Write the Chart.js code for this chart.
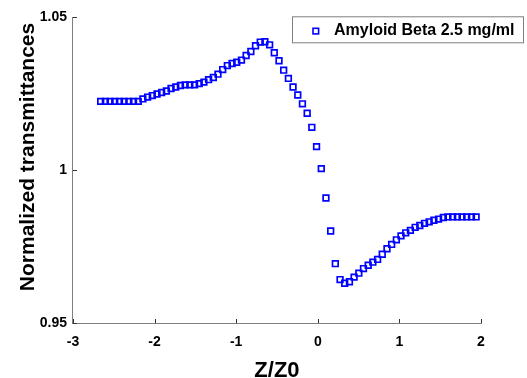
<!DOCTYPE html>
<html><head><meta charset="utf-8">
<script src="https://cdn.jsdelivr.net/npm/chart.js@4"></script>
<style>html,body{margin:0;padding:0;background:#fff}#wrap{width:527px;height:378px;position:relative}</style>
</head><body><div id="wrap"><canvas id="c" width="527" height="378"></canvas></div>
<script>
const seriesLabel = 'Amyloid Beta 2.5 mg/ml';
const xTitle = 'Z/Z0';
const yTitle = 'Normalized transmittances';
const xTickValues = [-3, -2, -1, 0, 1, 2];
const yTickValues = [0.95, 1, 1.05];

const zValues = [
  -2.660, -2.603, -2.545, -2.488, -2.430, -2.373, -2.315, -2.258, -2.200, -2.143,
  -2.085, -2.028, -1.970, -1.913, -1.855, -1.798, -1.740, -1.683, -1.625, -1.568,
  -1.510, -1.453, -1.395, -1.338, -1.280, -1.223, -1.165, -1.108, -1.050, -0.993,
  -0.935, -0.878, -0.820, -0.763, -0.705, -0.648, -0.590, -0.533, -0.475, -0.418,
  -0.360, -0.303, -0.245, -0.188, -0.130, -0.073, -0.015, 0.043, 0.100, 0.158,
  0.215, 0.273, 0.330, 0.388, 0.445, 0.503, 0.560, 0.618, 0.675, 0.733,
  0.790, 0.848, 0.905, 0.963, 1.020, 1.078, 1.135, 1.193, 1.250, 1.308,
  1.365, 1.423, 1.480, 1.538, 1.595, 1.653, 1.710, 1.768, 1.825, 1.883,
  1.940
];
const transmittance = [
  1.0225, 1.0225, 1.0225, 1.0225, 1.0225, 1.0225, 1.0225, 1.0225, 1.0225, 1.0233,
  1.0239, 1.0244, 1.0249, 1.0254, 1.0259, 1.0267, 1.0272, 1.0277, 1.0279, 1.0279,
  1.0279, 1.0283, 1.0288, 1.0296, 1.0303, 1.0314, 1.0329, 1.0342, 1.0349, 1.0353,
  1.0360, 1.0375, 1.0388, 1.0407, 1.0419, 1.0420, 1.0410, 1.0384, 1.0358, 1.0327,
  1.0300, 1.0272, 1.0246, 1.0217, 1.0186, 1.0140, 1.0077, 1.0005, 0.9909, 0.9801,
  0.9694, 0.9642, 0.9630, 0.9635, 0.9650, 0.9663, 0.9678, 0.9689, 0.9699, 0.9708,
  0.9725, 0.9743, 0.9757, 0.9772, 0.9785, 0.9795, 0.9803, 0.9813, 0.9819, 0.9826,
  0.9831, 0.9836, 0.9840, 0.9845, 0.9847, 0.9847, 0.9847, 0.9847, 0.9847, 0.9847,
  0.9847
];

const FONT = "Arial, 'Liberation Sans', Helvetica, sans-serif";
const AXIS_GRAY = '#7f7f7f';
const BLUE = '#0000ff';

const points = zValues.map((z, i) => ({ x: z, y: transmittance[i] }));

const inwardTicks = {
  id: 'inwardTicks',
  afterDatasetsDraw(chart) {
    const ctx = chart.ctx, a = chart.chartArea;
    const xs = chart.scales.x, ys = chart.scales.y;
    ctx.save();
    ctx.strokeStyle = '#333';
    ctx.lineWidth = 1;
    ctx.beginPath();
    xTickValues.forEach(v => {
      const px = Math.round(xs.getPixelForValue(v)) + 0.5;
      ctx.moveTo(px, a.bottom); ctx.lineTo(px, a.bottom - 4);
    });
    yTickValues.forEach(v => {
      const py = Math.round(ys.getPixelForValue(v)) + 0.5;
      ctx.moveTo(a.left, py); ctx.lineTo(a.left + 4, py);
    });
    ctx.stroke();
    ctx.restore();
  }
};

const axisTitles = {
  id: 'axisTitles',
  afterDraw(chart) {
    const ctx = chart.ctx, a = chart.chartArea;
    ctx.save();
    ctx.fillStyle = '#000';
    ctx.font = 'bold 22px ' + FONT;
    ctx.textAlign = 'center';
    ctx.textBaseline = 'alphabetic';
    ctx.fillText(xTitle, (a.left + a.right) / 2, chart.height - 1.5);
    ctx.font = 'bold 21px ' + FONT;
    ctx.translate(34, 157);
    ctx.rotate(-Math.PI / 2);
    ctx.fillText(yTitle, 0, 0);
    ctx.restore();
  }
};

const boxLegend = {
  id: 'boxLegend',
  afterDraw(chart) {
    const ctx = chart.ctx, a = chart.chartArea;
    const ds = chart.data.datasets[0];
    const left = 292.5, top = a.top - 0.5, w = 231, h = 26;
    ctx.save();
    ctx.fillStyle = '#fff';
    ctx.fillRect(left, top, w, h);
    ctx.strokeStyle = AXIS_GRAY;
    ctx.lineWidth = 1;
    ctx.strokeRect(left, top, w, h);
    ctx.strokeStyle = BLUE;
    ctx.lineWidth = 1.6;
    ctx.strokeRect(left + 20.5, top + 11.5, 5.6, 5.6);
    ctx.fillStyle = '#000';
    ctx.font = 'bold 16px ' + FONT;
    ctx.textBaseline = 'middle';
    ctx.textAlign = 'left';
    ctx.fillText(ds.label, left + 41.5, top + 14);
    ctx.restore();
  }
};

new Chart(document.getElementById('c'), {
  type: 'scatter',
  data: {
    datasets: [{
      label: seriesLabel,
      data: points,
      showLine: false,
      pointStyle: 'rect',
      pointRadius: 4,
      pointHoverRadius: 4,
      pointBorderWidth: 1.7,
      borderColor: BLUE,
      backgroundColor: 'rgba(0,0,0,0)',
      pointBackgroundColor: 'rgba(0,0,0,0)'
    }]
  },
  options: {
    responsive: false,
    animation: false,
    devicePixelRatio: 1,
    layout: { padding: { left: 33.7, right: 46, top: 17.3, bottom: 17.2 } },
    plugins: { legend: { display: false }, tooltip: { enabled: false } },
    scales: {
      x: {
        type: 'linear', min: -3, max: 2,
        afterBuildTicks: s => { s.ticks = xTickValues.map(v => ({ value: v })); },
        ticks: { color: '#000', padding: 10.5, font: { family: FONT, size: 14, weight: 'bold' }, callback: v => String(v) },
        grid: { display: true, drawOnChartArea: false, drawTicks: false },
        border: { display: true, color: AXIS_GRAY, width: 1 },
        title: { display: false }
      },
      y: {
        type: 'linear', min: 0.95, max: 1.05,
        afterBuildTicks: s => { s.ticks = yTickValues.map(v => ({ value: v })); },
        ticks: { color: '#000', padding: 6, font: { family: FONT, size: 14, weight: 'bold' }, callback: v => String(v) },
        grid: { display: true, drawOnChartArea: false, drawTicks: false },
        border: { display: true, color: AXIS_GRAY, width: 1 },
        title: { display: false }
      }
    }
  },
  plugins: [inwardTicks, axisTitles, boxLegend]
});
</script>
</body></html>
